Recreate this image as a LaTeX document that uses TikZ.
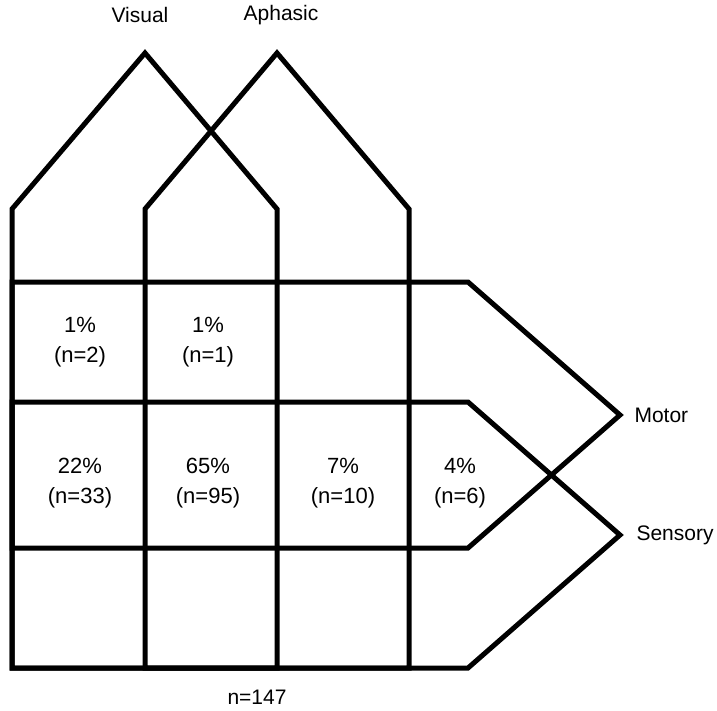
\documentclass[tikz,border=0pt]{standalone}
\usepackage{fontspec}
\setmainfont{Liberation Sans}
\usepackage{tikz}

\tikzset{
  region/.style={line width=5pt, line join=miter},
  cell/.style={align=center, font=\fontsize{22}{30}\selectfont},
  setname/.style={font=\fontsize{21}{24}\selectfont}
}

\begin{document}
\begin{tikzpicture}[x=1pt,y=-1pt]
          \useasboundingbox (0,0) rectangle (717,711);
          \draw[region] (12,668)--(12,209)--(145,53)--(277,209)--(277,668)--cycle;
          \draw[region] (145,668)--(145,209)--(277,53)--(409,209)--(409,668)--cycle;
          \draw[region] (12,282)--(468,282)--(620,415)--(468,548)--(12,548)--cycle;
          \draw[region] (12,402)--(468,402)--(620,535)--(468,668)--(12,668)--cycle;
          \node[setname] (visual) at (140,15) {Visual};
          \node[setname] (aphasic) at (281,15) {Aphasic};
          \node[setname,anchor=west] (motor) at (631,415) {Motor};
          \node[setname,anchor=west] (sensory) at (633,535) {Sensory};
          \node[cell] (vm) at (80,342) {1\%\\(n=2)};
          \node[cell] (avm) at (208,342) {1\%\\(n=1)};
          \node[cell] (vms) at (80,483) {22\%\\(n=33)};
          \node[cell] (avms) at (208,483) {65\%\\(n=95)};
          \node[cell] (ams) at (343,483) {7\%\\(n=10)};
          \node[cell] (ms) at (460,483) {4\%\\(n=6)};
          \node[setname] (total) at (257,697) {n=147};
        \end{tikzpicture}
\end{document}
